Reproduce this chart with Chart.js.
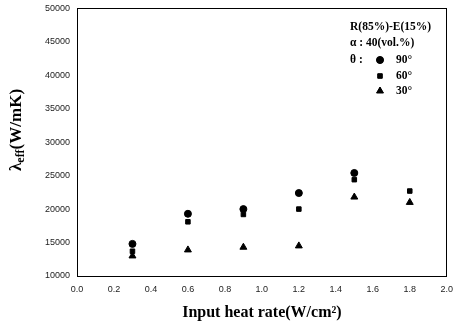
<!DOCTYPE html>
<html><head><meta charset="utf-8">
<script src="https://cdn.jsdelivr.net/npm/chart.js@4/dist/chart.umd.min.js"></script>
<style>html,body{margin:0;padding:0;background:#fff}#wrap{width:457px;height:326px}</style>
</head><body><div id="wrap"><canvas id="c" width="457" height="326"></canvas></div>
<script>
const heatRate = [0.3, 0.6, 0.9, 1.2, 1.5, 1.8];
const theta90 = [14800, 19300, 20000, 22400, 25400, null];
const theta60 = [13700, 18100, 19200, 20000, 24400, 22700];
const theta30 = [13000, 13900, 14300, 14500, 21800, 21000];
const seriesNames = ['90°', '60°', '30°'];
const legendLines = ['R(85%)-E(15%)', 'α : 40(vol.%)', 'θ :'];
const xTitle = 'Input heat rate(W/cm²)';

const toPts = arr => heatRate.map((x, i) => ({x, y: arr[i]})).filter(p => p.y !== null);
const styles = ['circle', 'rect', 'triangle'];
const radii = [3.5, 3.2, 4];

const annot = {
  id: 'annot',
  afterDraw(chart) {
    const ctx = chart.ctx;
    ctx.save();
    ctx.fillStyle = '#000';
    ctx.font = 'bold 11.5px "Liberation Serif"';
    ctx.textBaseline = 'middle';
    ctx.textAlign = 'left';
    ctx.fillText(legendLines[0], 350, 27);
    ctx.fillText(legendLines[1], 350, 43);
    ctx.fillText(legendLines[2], 350, 60);
    const ys = [60, 76, 91];
    chart.data.datasets.forEach((ds, i) => {
      Chart.helpers.drawPoint(ctx, {pointStyle: styles[i], radius: radii[i], borderWidth: 1, rotation: 0}, 380, ys[i]);
      ctx.fillStyle = '#000';
      ctx.fill();
      ctx.fillText(seriesNames[i], 396, ys[i]);
    });
    // Y title
    ctx.translate(17, 130);
    ctx.rotate(-Math.PI / 2);
    ctx.textAlign = 'left';
    const big = 'bold 17px "Liberation Serif"', small = 'bold 12px "Liberation Serif"';
    ctx.font = big;
    const t1 = 'λ', t3 = '(W/mK)';
    const w1 = ctx.measureText(t1).width, w3 = ctx.measureText(t3).width;
    ctx.font = small;
    const t2 = 'eff';
    const w2 = ctx.measureText(t2).width;
    let x0 = -(w1 + w2 + w3) / 2;
    ctx.font = big;
    ctx.fillText(t1, x0, 0);
    ctx.font = small;
    ctx.fillText(t2, x0 + w1, 4);
    ctx.font = big;
    ctx.fillText(t3, x0 + w1 + w2, 0);
    ctx.restore();
  }
};

new Chart(document.getElementById('c'), {
  type: 'scatter',
  data: {
    datasets: [theta90, theta60, theta30].map((arr, i) => ({
      label: seriesNames[i],
      data: toPts(arr),
      pointStyle: styles[i],
      pointRadius: radii[i],
      backgroundColor: '#000',
      borderColor: '#000',
      borderWidth: 1
    }))
  },
  options: {
    responsive: false,
    animation: false,
    layout: {padding: {top: 7, right: 8, left: 0, bottom: 0}},
    plugins: {legend: {display: false}, tooltip: {enabled: false}},
    scales: {
      x: {
        type: 'linear', min: 0, max: 2.0,
        afterFit(s) { s.height = 50; },
        border: {display: true, color: '#000', width: 1},
        grid: {display: false, drawTicks: true, tickLength: 4, color: '#000'},
        ticks: {stepSize: 0.2, color: '#222', font: {family: 'Liberation Sans', size: 9}, padding: 4,
          callback: v => Number(v).toFixed(1)},
        title: {display: true, text: xTitle, color: '#000', font: {family: 'Liberation Serif', size: 16, weight: 'bold'}, padding: {top: 3}}
      },
      y: {
        min: 10000, max: 50000,
        afterFit(s) { s.width = 77; },
        border: {display: true, color: '#000', width: 1},
        grid: {display: false, tickLength: 4},
        ticks: {stepSize: 5000, color: '#222', font: {family: 'Liberation Sans', size: 9}, padding: 3,
          callback: v => String(v)}
      },
      x2: {
        type: 'linear', position: 'top', min: 0, max: 2,
        afterFit(s) { s.height = 0; },
        border: {display: true, color: '#000', width: 1},
        grid: {display: false}, ticks: {display: false}
      },
      y2: {
        position: 'right', min: 10000, max: 50000,
        afterFit(s) { s.width = 0; },
        border: {display: true, color: '#000', width: 1},
        grid: {display: false}, ticks: {display: false}
      }
    }
  },
  plugins: [annot]
});
</script></body></html>
